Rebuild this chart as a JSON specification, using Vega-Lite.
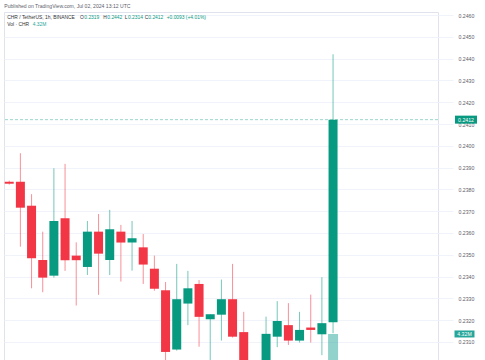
{
  "$schema": "https://vega.github.io/schema/vega-lite/v6.json",
  "width": 434,
  "height": 348,
  "autosize": {"type": "none"},
  "padding": {"left": 4, "top": 12, "right": 47, "bottom": 0},
  "background": "white",
  "config": {"view": {"stroke": "#e0e3eb", "strokeWidth": 1}, "font": "Liberation Sans"},
  "datasets": {
    "candles": [
      {"t": 0, "o": 0.23835, "h": 0.2384, "l": 0.23822, "c": 0.23826, "v": 0.62},
      {"t": 1, "o": 0.23835, "h": 0.23966, "l": 0.23537, "c": 0.23716, "v": 0.85},
      {"t": 2, "o": 0.23725, "h": 0.23778, "l": 0.23346, "c": 0.23484, "v": 0.91},
      {"t": 3, "o": 0.23476, "h": 0.23606, "l": 0.23328, "c": 0.23395, "v": 0.55},
      {"t": 4, "o": 0.23404, "h": 0.23897, "l": 0.23395, "c": 0.23655, "v": 0.78},
      {"t": 5, "o": 0.23667, "h": 0.23917, "l": 0.23426, "c": 0.23475, "v": 0.6},
      {"t": 6, "o": 0.23496, "h": 0.23557, "l": 0.23267, "c": 0.23475, "v": 0.35},
      {"t": 7, "o": 0.23444, "h": 0.23655, "l": 0.23407, "c": 0.23606, "v": 0.4},
      {"t": 8, "o": 0.23606, "h": 0.23687, "l": 0.23316, "c": 0.23505, "v": 0.45},
      {"t": 9, "o": 0.23476, "h": 0.23706, "l": 0.23407, "c": 0.23617, "v": 0.38},
      {"t": 10, "o": 0.23606, "h": 0.23637, "l": 0.23377, "c": 0.23556, "v": 0.3},
      {"t": 11, "o": 0.23556, "h": 0.23655, "l": 0.23427, "c": 0.23576, "v": 0.22},
      {"t": 12, "o": 0.23534, "h": 0.23595, "l": 0.23366, "c": 0.23455, "v": 0.33},
      {"t": 13, "o": 0.23436, "h": 0.23496, "l": 0.23335, "c": 0.23344, "v": 0.41},
      {"t": 14, "o": 0.23337, "h": 0.23375, "l": 0.2299, "c": 0.23054, "v": 0.95},
      {"t": 15, "o": 0.23065, "h": 0.23458, "l": 0.2306, "c": 0.23296, "v": 0.88},
      {"t": 16, "o": 0.23276, "h": 0.23426, "l": 0.23177, "c": 0.23346, "v": 0.5},
      {"t": 17, "o": 0.23366, "h": 0.23384, "l": 0.23078, "c": 0.23215, "v": 0.57},
      {"t": 18, "o": 0.23204, "h": 0.23227, "l": 0.2298, "c": 0.23227, "v": 0.44},
      {"t": 19, "o": 0.23225, "h": 0.23386, "l": 0.23106, "c": 0.23296, "v": 0.42},
      {"t": 20, "o": 0.23296, "h": 0.23458, "l": 0.2312, "c": 0.23124, "v": 0.49},
      {"t": 21, "o": 0.23145, "h": 0.23238, "l": 0.2294, "c": 0.2298, "v": 0.63},
      {"t": 22, "o": 0.2298, "h": 0.23, "l": 0.229, "c": 0.2296, "v": 0.71},
      {"t": 23, "o": 0.2297, "h": 0.23216, "l": 0.2295, "c": 0.23137, "v": 0.52},
      {"t": 24, "o": 0.23124, "h": 0.23287, "l": 0.23076, "c": 0.23196, "v": 0.39},
      {"t": 25, "o": 0.23177, "h": 0.23278, "l": 0.23086, "c": 0.23106, "v": 0.36},
      {"t": 26, "o": 0.23106, "h": 0.23238, "l": 0.23097, "c": 0.23155, "v": 0.29},
      {"t": 27, "o": 0.23166, "h": 0.23317, "l": 0.23097, "c": 0.23155, "v": 0.31},
      {"t": 28, "o": 0.23135, "h": 0.23397, "l": 0.23039, "c": 0.23186, "v": 0.48},
      {"t": 29, "o": 0.2319, "h": 0.2442, "l": 0.2314, "c": 0.2412, "v": 4.32}
    ],
    "last": [{"price": 0.2412, "label": "0.2412"}],
    "vollast": [{"v": 4.32, "label": "4.32M"}]
  },
  "data": {"name": "candles"},
  "layer": [
    {
      "mark": {"type": "rule", "clip": true, "strokeWidth": 1, "opacity": 0.55},
      "encoding": {
        "x": {"field": "t", "type": "quantitative", "scale": {"domain": [-0.02, 37.95], "nice": false, "zero": false},
          "axis": {"values": [4, 10, 16, 22, 28, 34], "grid": true, "gridColor": "#f0f3fa", "labels": false, "ticks": false, "domain": false, "title": null}},
        "y": {"field": "l", "type": "quantitative", "scale": {"domain": [0.23017, 0.24614], "nice": false, "zero": false},
          "axis": {"orient": "right", "values": [0.231, 0.232, 0.233, 0.234, 0.235, 0.236, 0.237, 0.238, 0.239, 0.24, 0.241, 0.242, 0.243, 0.244, 0.245, 0.246],
            "format": ".4f", "grid": true, "gridColor": "#f0f3fa", "tickColor": "#f0f3fa", "tickSize": 15, "domain": false,
            "labelColor": "#5d606b", "labelFontSize": 5.2, "labelPadding": 5, "labelBaseline": "middle", "title": null}},
        "y2": {"field": "h"},
        "color": {"condition": {"test": "datum.c >= datum.o", "value": "#089981"}, "value": "#f23645"}
      }
    },
    {
      "mark": {"type": "bar", "clip": true, "width": 9},
      "encoding": {
        "x": {"field": "t", "type": "quantitative", "axis": null},
        "y": {"field": "o", "type": "quantitative", "scale": {"domain": [0.23017, 0.24614], "nice": false, "zero": false}, "axis": null},
        "y2": {"field": "c"},
        "color": {"condition": {"test": "datum.c >= datum.o", "value": "#089981"}, "value": "#f23645"}
      }
    },
    {
      "data": {"name": "last"},
      "mark": {"type": "rule", "strokeDash": [3, 2], "color": "#089981", "opacity": 0.4, "strokeWidth": 1},
      "encoding": {"y": {"field": "price", "type": "quantitative", "scale": {"domain": [0.23017, 0.24614], "nice": false, "zero": false}, "axis": null}}
    },
    {
      "data": {"name": "last"},
      "mark": {"type": "point", "shape": "M-11,-4H11V4H-11Z", "size": 4, "filled": true, "opacity": 1, "color": "#089981", "x": {"expr": "width + 28"}, "clip": false},
      "encoding": {"y": {"field": "price", "type": "quantitative", "scale": {"domain": [0.23017, 0.24614], "nice": false, "zero": false}, "axis": null}}
    },
    {
      "data": {"name": "last"},
      "mark": {"type": "text", "color": "white", "fontSize": 5.2, "x": {"expr": "width + 28"}, "align": "center", "baseline": "middle", "clip": false},
      "encoding": {"y": {"field": "price", "type": "quantitative", "scale": {"domain": [0.23017, 0.24614], "nice": false, "zero": false}, "axis": null}, "text": {"field": "label"}}
    },
    {
      "mark": {"type": "bar", "clip": true, "width": 10, "opacity": 0.5},
      "encoding": {
        "x": {"field": "t", "type": "quantitative", "axis": null},
        "y": {"field": "v", "type": "quantitative", "scale": {"domain": [1, 45.4], "zero": false, "nice": false}, "axis": null},
        "color": {"condition": {"test": "datum.c >= datum.o", "value": "#26a69a"}, "value": "#ef5350"}
      }
    },
    {
      "data": {"name": "vollast"},
      "mark": {"type": "point", "shape": "M-10,-3.5H10V3.5H-10Z", "size": 4, "filled": true, "opacity": 1, "color": "#26a69a", "x": {"expr": "width + 26.5"}, "clip": false},
      "encoding": {"y": {"field": "v", "type": "quantitative", "scale": {"domain": [1, 45.4], "zero": false, "nice": false}, "axis": null}}
    },
    {
      "data": {"name": "vollast"},
      "mark": {"type": "text", "color": "white", "fontSize": 5.2, "x": {"expr": "width + 26.5"}, "align": "center", "baseline": "middle", "clip": false},
      "encoding": {"y": {"field": "v", "type": "quantitative", "scale": {"domain": [1, 45.4], "zero": false, "nice": false}, "axis": null}, "text": {"field": "label"}}
    },
    {"data": {"values": [{"s": "Published on TradingView.com, Jul 02, 2024 13:12 UTC"}]}, "mark": {"type": "text", "x": 0.3, "y": -6.2, "align": "left", "baseline": "middle", "fontSize": 5.1, "color": "#5d606b"}, "encoding": {"text": {"field": "s"}}},
    {"data": {"values": [{"s": "CHR / TetherUS, 1h, BINANCE"}]}, "mark": {"type": "text", "x": 3.3, "y": 6, "align": "left", "baseline": "middle", "fontSize": 4.9, "color": "#333"}, "encoding": {"text": {"field": "s"}}},
    {"data": {"values": [{"s": "O"}]}, "mark": {"type": "text", "x": 76, "y": 6, "align": "left", "baseline": "middle", "fontSize": 4.9, "color": "#333"}, "encoding": {"text": {"field": "s"}}},
    {"data": {"values": [{"s": "0.2319"}]}, "mark": {"type": "text", "x": 80.3, "y": 6, "align": "left", "baseline": "middle", "fontSize": 4.9, "color": "#089981"}, "encoding": {"text": {"field": "s"}}},
    {"data": {"values": [{"s": "H"}]}, "mark": {"type": "text", "x": 99.3, "y": 6, "align": "left", "baseline": "middle", "fontSize": 4.9, "color": "#333"}, "encoding": {"text": {"field": "s"}}},
    {"data": {"values": [{"s": "0.2442"}]}, "mark": {"type": "text", "x": 103.3, "y": 6, "align": "left", "baseline": "middle", "fontSize": 4.9, "color": "#089981"}, "encoding": {"text": {"field": "s"}}},
    {"data": {"values": [{"s": "L"}]}, "mark": {"type": "text", "x": 120.7, "y": 6, "align": "left", "baseline": "middle", "fontSize": 4.9, "color": "#333"}, "encoding": {"text": {"field": "s"}}},
    {"data": {"values": [{"s": "0.2314"}]}, "mark": {"type": "text", "x": 124, "y": 6, "align": "left", "baseline": "middle", "fontSize": 4.9, "color": "#089981"}, "encoding": {"text": {"field": "s"}}},
    {"data": {"values": [{"s": "C"}]}, "mark": {"type": "text", "x": 140.7, "y": 6, "align": "left", "baseline": "middle", "fontSize": 4.9, "color": "#333"}, "encoding": {"text": {"field": "s"}}},
    {"data": {"values": [{"s": "0.2412"}]}, "mark": {"type": "text", "x": 144.3, "y": 6, "align": "left", "baseline": "middle", "fontSize": 4.9, "color": "#089981"}, "encoding": {"text": {"field": "s"}}},
    {"data": {"values": [{"s": "+0.0093 (+4.01%)"}]}, "mark": {"type": "text", "x": 162.7, "y": 6, "align": "left", "baseline": "middle", "fontSize": 4.9, "color": "#089981"}, "encoding": {"text": {"field": "s"}}},
    {"data": {"values": [{"s": "Vol · CHR"}]}, "mark": {"type": "text", "x": 3.3, "y": 12.7, "align": "left", "baseline": "middle", "fontSize": 4.9, "color": "#333"}, "encoding": {"text": {"field": "s"}}},
    {"data": {"values": [{"s": "4.32M"}]}, "mark": {"type": "text", "x": 28.7, "y": 12.7, "align": "left", "baseline": "middle", "fontSize": 4.9, "color": "#26a69a"}, "encoding": {"text": {"field": "s"}}}
  ],
  "resolve": {"scale": {"y": "independent"}, "axis": {"y": "independent"}}
}
